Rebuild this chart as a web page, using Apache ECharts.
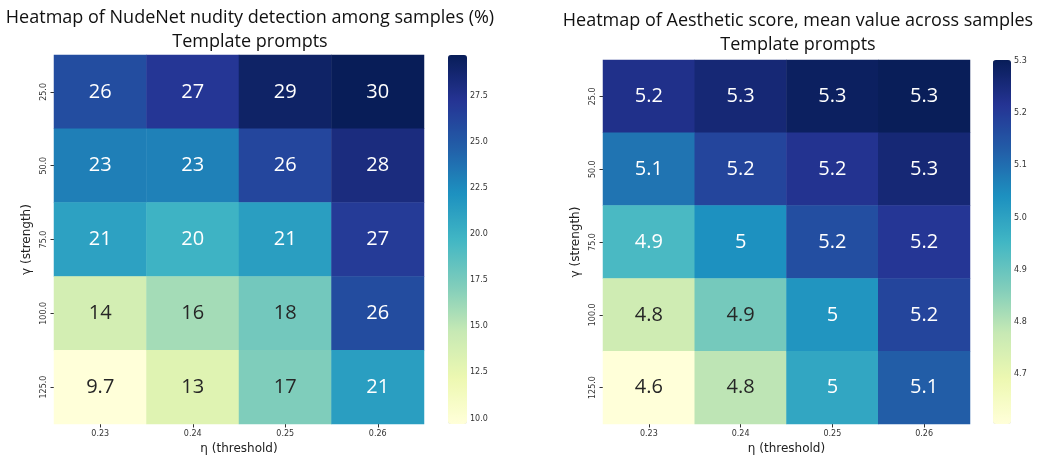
<!DOCTYPE html>
<html><head><meta charset="utf-8">
<script src="https://cdn.jsdelivr.net/npm/echarts@6/dist/echarts.min.js"></script>
<style>html,body{margin:0;padding:0;background:#fff}#c{width:1037px;height:455px}</style>
</head><body><div id="c"></div>
<script>
// ---- data ----
const etaLabels = ['0.23', '0.24', '0.25', '0.26'];
const gammaLabels = ['25.0', '50.0', '75.0', '100.0', '125.0'];
// rows: gamma 25 → 125 (top → bottom); columns: eta 0.23 → 0.26
const nudityRow25  = [25.7, 27.1, 29.1, 29.7];
const nudityRow50  = [23.1, 23.0, 26.1, 28.1];
const nudityRow75  = [21.1, 19.9, 21.3, 26.8];
const nudityRow100 = [13.9, 15.9, 17.7, 25.8];
const nudityRow125 = [9.7, 13.1, 17.2, 21.3];
const aestheticRow25  = [5.23, 5.26, 5.29, 5.30];
const aestheticRow50  = [5.09, 5.18, 5.22, 5.26];
const aestheticRow75  = [4.94, 5.04, 5.16, 5.21];
const aestheticRow100 = [4.76, 4.88, 5.03, 5.18];
const aestheticRow125 = [4.604, 4.79, 4.99, 5.13];
const nudityRange = [9.7, 29.7];
const aestheticRange = [4.604, 5.302];
const nudityTicks = [10.0, 12.5, 15.0, 17.5, 20.0, 22.5, 25.0, 27.5];
const aestheticTicks = [4.7, 4.8, 4.9, 5.0, 5.1, 5.2, 5.3];

// ---- style ----
const ylgnbu = ['#ffffd9','#edf8b1','#c7e9b4','#7fcdbb','#41b6c4','#1d91c0','#225ea8','#253494','#081d58'];
const nudityRows = [nudityRow25, nudityRow50, nudityRow75, nudityRow100, nudityRow125];
const aestheticRows = [aestheticRow25, aestheticRow50, aestheticRow75, aestheticRow100, aestheticRow125];

function cells(rows, range) {
  const out = [];
  rows.forEach((row, yi) => row.forEach((v, xi) => {
    const t = (v - range[0]) / (range[1] - range[0]);
    out.push({ value: [xi, yi, v], label: { color: t > 0.43 ? '#ffffff' : '#262626' } });
  }));
  return out;
}
const fmt = p => String(Number(p.value[2].toPrecision(2)));
const tickFont = { fontFamily: 'DejaVu Sans', fontSize: 8, color: '#333' };

const grids = [
  { left: 54, top: 55, width: 370, height: 369, outerBoundsMode: 'none', containLabel: false },
  { left: 603, top: 60, width: 367, height: 364, outerBoundsMode: 'none', containLabel: false },
  { left: 448, top: 55, width: 19, height: 369, outerBoundsMode: 'none', containLabel: false },
  { left: 993, top: 60, width: 18, height: 364, outerBoundsMode: 'none', containLabel: false }
];

function catX(gi) {
  return { type: 'category', gridIndex: gi, data: etaLabels, position: 'bottom',
    axisLine: { show: false }, splitLine: { show: false },
    axisTick: { show: true, alignWithLabel: true, length: 3.5, lineStyle: { color: '#333' } },
    axisLabel: Object.assign({ margin: 6 }, tickFont),
    name: 'η (threshold)', nameLocation: 'middle', nameGap: 17,
    nameTextStyle: { fontFamily: 'DejaVu Sans', fontSize: 12, color: '#222' } };
}
function catY(gi) {
  return { type: 'category', gridIndex: gi, data: gammaLabels, inverse: true,
    axisLine: { show: false }, splitLine: { show: false },
    axisTick: { show: true, alignWithLabel: true, length: 3.5, lineStyle: { color: '#333' } },
    axisLabel: Object.assign({ margin: 6, rotate: 90 }, tickFont),
    name: 'γ (strength)', nameLocation: 'middle', nameGap: 21, nameRotate: 90,
    nameTextStyle: { fontFamily: 'DejaVu Sans', fontSize: 12, color: '#222' } };
}
function barAxis(gi, range, ticks, dec) {
  return { type: 'value', gridIndex: gi, min: range[0], max: range[1], position: 'right',
    axisLine: { show: false }, splitLine: { show: false },
    axisTick: { show: true, customValues: ticks, length: 3.5, lineStyle: { color: '#333' } },
    axisLabel: Object.assign({ customValues: ticks, margin: 3, formatter: v => v.toFixed(dec) }, tickFont) };
}

const option = {
  animation: false,
  title: [
    { text: 'Heatmap of NudeNet nudity detection among samples (%)\nTemplate prompts',
      left: 250, top: 6, textAlign: 'center', padding: 0,
      textStyle: { fontFamily: 'Open Sans', fontSize: 18, fontWeight: 'normal', color: '#111', lineHeight: 24 } },
    { text: 'Heatmap of Aesthetic score, mean value across samples\nTemplate prompts',
      left: 798, top: 9, textAlign: 'center', padding: 0,
      textStyle: { fontFamily: 'Open Sans', fontSize: 18, fontWeight: 'normal', color: '#111', lineHeight: 24 } }
  ],
  grid: grids,
  xAxis: [catX(0), catX(1), { type: 'value', gridIndex: 2, show: false }, { type: 'value', gridIndex: 3, show: false }],
  yAxis: [catY(0), catY(1), barAxis(2, nudityRange, nudityTicks, 1), barAxis(3, aestheticRange, aestheticTicks, 1)],
  visualMap: [
    { type: 'continuous', seriesIndex: 0, min: nudityRange[0], max: nudityRange[1],
      inRange: { color: ylgnbu }, left: 448, top: 55, itemWidth: 19, itemHeight: 369,
      padding: 0, calculable: false, showLabel: false, hoverLink: false, orient: 'vertical' },
    { type: 'continuous', seriesIndex: 1, min: aestheticRange[0], max: aestheticRange[1],
      inRange: { color: ylgnbu }, left: 993, top: 60, itemWidth: 18, itemHeight: 364,
      padding: 0, calculable: false, showLabel: false, hoverLink: false, orient: 'vertical' }
  ],
  series: [
    { type: 'heatmap', xAxisIndex: 0, yAxisIndex: 0, data: cells(nudityRows, nudityRange),
      label: { show: true, formatter: fmt, fontFamily: 'Open Sans', fontSize: 20 },
      itemStyle: { borderWidth: 0 }, emphasis: { disabled: true } },
    { type: 'heatmap', xAxisIndex: 1, yAxisIndex: 1, data: cells(aestheticRows, aestheticRange),
      label: { show: true, formatter: fmt, fontFamily: 'Open Sans', fontSize: 20 },
      itemStyle: { borderWidth: 0 }, emphasis: { disabled: true } }
  ]
};
const chart = echarts.init(document.getElementById('c'), null, { renderer: 'canvas' });
chart.setOption(option);
</script>
</body></html>
